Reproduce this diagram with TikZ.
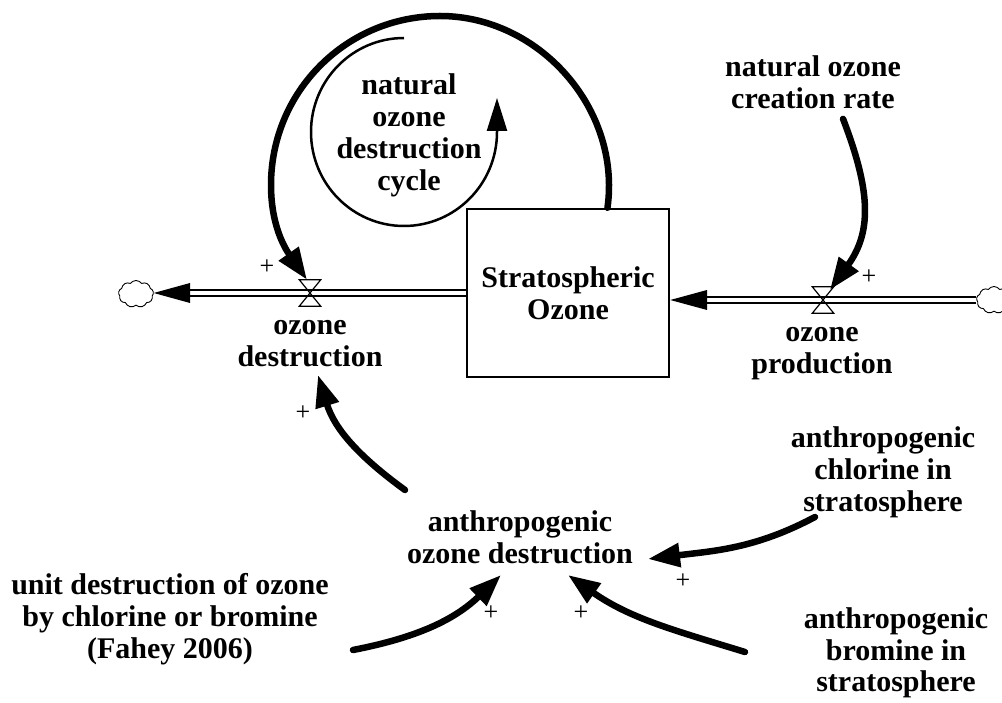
\documentclass[tikz,border=0pt]{standalone}
\usepackage{fontspec}
\setmainfont{Liberation Serif}
\usetikzlibrary{arrows.meta,shapes.symbols,calc}

% centred lines whose baseline is the baseline of the first line
\newcommand{\stacklines}[1]{\begin{tabular}[t]{@{}c@{}}#1\end{tabular}}

\begin{document}
\begin{tikzpicture}[x=1pt,y=1pt,
  lbl/.style={font=\bfseries\fontsize{30}{32}\selectfont, inner sep=0pt, anchor=base},
  plus/.style={font=\fontsize{26}{26}\selectfont, inner sep=0pt},
  link/.style={line width=6.5pt, line cap=round, -{Triangle[length=32pt,width=23pt]}},
  pipe/.style={double, double distance=4.5pt, line width=1.5pt},
  valve/.style={minimum width=21pt, minimum height=26pt, inner sep=0pt},
  valveline/.style={line width=1.2pt, line join=miter},
  sink/.style={cloud, cloud puffs=9, cloud puff arc=110, draw, line width=0.9pt,
    minimum width=35pt, minimum height=27pt, inner sep=0pt},
  stockbox/.style={draw, line width=2.5pt, minimum width=202pt, minimum height=168pt,
    align=center, inner sep=0pt, font=\bfseries\fontsize{30}{32}\selectfont},
  loopline/.style={line width=2.5pt, -{Triangle[length=33pt,width=20pt]}},
]
\useasboundingbox (0,0) rectangle (1002,702);

% stock, valves and clouds
\node[stockbox] (stock) at (568,409) {Stratospheric\\Ozone};
\node[valve] (vL) at (310,409) {};
\node[valve] (vR) at (823,402) {};
\node[sink] (cL) at (136,408) {};
\node[sink] (cR) at (994,402) {};

% outflow pipe
\coordinate (aL) at (190,409);
\draw[pipe] (stock.west) -- (aL);
\fill (cL.east |- aL) -- ([yshift=10pt]aL) -- ([yshift=-10pt]aL) -- cycle;

% inflow pipe
\coordinate (aR) at (707,402);
\draw[pipe] (cR.west |- aR) -- (aR);
\fill (stock.east |- aR) -- ([yshift=10pt]aR) -- ([yshift=-10pt]aR) -- cycle;

% valve symbols
\foreach \v in {vL,vR}
  \draw[valveline] (\v.north west) -- (\v.north east) -- (\v.south west) -- (\v.south east) -- cycle;

% labels
\node[lbl] (nocr) at (813,625) {\stacklines{natural ozone\\creation rate}};
\node[lbl] (cyc)  at (409,607) {\stacklines{natural\\ozone\\destruction\\cycle}};
\node[lbl] (od)   at (310,367) {\stacklines{ozone\\destruction}};
\node[lbl] (op)   at (822,360) {\stacklines{ozone\\production}};
\node[lbl] (aod)  at (520,170) {\stacklines{anthropogenic\\ozone destruction}};
\node[lbl] (acl)  at (883,254) {\stacklines{anthropogenic\\chlorine in\\stratosphere}};
\node[lbl] (unit) at (170,107) {\stacklines{unit destruction of ozone\\by chlorine or bromine\\(Fahey 2006)}};
\node[lbl] (abr)  at (896,74)  {\stacklines{anthropogenic\\bromine in\\stratosphere}};

% loop marker: open circle ending in an upward arrowhead
\coordinate (lc) at (404,570);
\draw[loopline] ([yshift=94pt]lc) arc[start angle=90, end angle=360, x radius=93pt, y radius=94pt]
  -- ++(0,34);

% stock feeds back to its own outflow
\coordinate (bs) at ($(stock.north west)!0.693!(stock.north east)$);
\coordinate (btop) at (440,686);
\coordinate (bleft) at (271,517);
\draw[link] (bs) to[out=82,in=0] (btop) to[out=180,in=90] (bleft)
  to[out=270,in=125] ([xshift=-3pt]vL.north);

% creation rate drives the inflow
\draw[link] ([xshift=30pt]nocr.south) to[out=-69,in=54,looseness=1.1]
  ([xshift=7pt,yshift=-3pt]vR.north);

% anthropogenic links
\draw[link] ([xshift=-115pt,yshift=42pt]aod.base) to[out=144,in=-73]
  ([xshift=8pt,yshift=-40pt]od.base);
\draw[link] ([xshift=-68pt,yshift=-69pt]acl.base) to[out=208,in=7]
  ([xshift=128pt,yshift=-27pt]aod.base);
\draw[link] ([xshift=183pt,yshift=-55pt]unit.base) to[out=11,in=224]
  ([xshift=-19pt,yshift=-43pt]aod.base);
\draw[link] ([xshift=-151pt,yshift=-24pt]abr.base) to[out=163,in=-35]
  ([xshift=48pt,yshift=-43pt]aod.base);

% polarities
\node[plus] (p1) at (267,435) {+};
\node[plus] (p2) at (869,425) {+};
\node[plus] (p3) at (303,289) {+};
\node[plus] (p4) at (683,121) {+};
\node[plus] (p5) at (491,89)  {+};
\node[plus] (p6) at (581,89)  {+};
\end{tikzpicture}
\end{document}
